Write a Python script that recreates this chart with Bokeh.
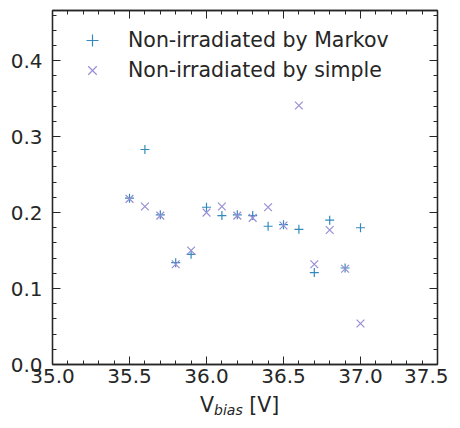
from bokeh.plotting import figure
from bokeh.models import (ColumnDataSource, LinearAxis, Range1d, Legend, LegendItem,
                          CustomJSTickFormatter, SingleIntervalTicker, NumeralTickFormatter, Div)
from bokeh.layouts import column
from bokeh.embed import file_html
from bokeh.resources import INLINE

vbias = [35.5, 35.6, 35.7, 35.8, 35.9, 36.0, 36.1, 36.2, 36.3, 36.4, 36.5, 36.6, 36.7, 36.8, 36.9, 37.0]
markov = [0.219, 0.283, 0.197, 0.134, 0.145, 0.207, 0.196, 0.197, 0.196, 0.182, 0.184, 0.178, 0.121, 0.190, 0.127, 0.180]
simple = [0.218, 0.208, 0.196, 0.132, 0.150, 0.200, 0.208, 0.196, 0.193, 0.207, 0.183, 0.341, 0.132, 0.177, 0.126, 0.054]
label_markov = "Non-irradiated by Markov"
label_simple = "Non-irradiated by simple"

FONT = "DejaVu Sans"
TXT = "#262626"
C_MARKOV = "#348ABD"
C_SIMPLE = "#988ED5"

p = figure(width=448, height=395, output_backend="svg", toolbar_location=None,
           x_range=Range1d(35.0, 37.5), y_range=Range1d(0.0, 0.466),
           min_border_left=52, min_border_right=11, min_border_top=10, min_border_bottom=31,
           background_fill_color="white", border_fill_color="white")
p.grid.visible = False
p.outline_line_color = TXT
p.outline_line_width = 1.3

src = ColumnDataSource(dict(x=vbias, m=markov, s=simple))
r1 = p.scatter("x", "m", source=src, marker="cross", size=9, line_color=C_MARKOV, line_width=1.2)
r2 = p.scatter("x", "s", source=src, marker="x", size=11, line_color=C_SIMPLE, line_width=1.2)

def style(ax, show_labels):
    ax.axis_line_color = TXT
    ax.axis_line_width = 1.3
    ax.major_tick_line_color = TXT
    ax.minor_tick_line_color = TXT
    ax.major_tick_in = 8
    ax.major_tick_out = 0
    ax.minor_tick_in = 4
    ax.minor_tick_out = 0
    ax.major_label_text_font = FONT
    ax.major_label_text_font_size = "20px"
    ax.major_label_text_color = TXT
    if show_labels:
        ax.formatter = NumeralTickFormatter(format="0.0")
    else:
        ax.formatter = CustomJSTickFormatter(code="return ''")
        ax.major_label_text_font_size = "0px"
        ax.major_label_standoff = 0

p.xaxis.ticker = SingleIntervalTicker(interval=0.5, num_minor_ticks=5)
p.yaxis.ticker = SingleIntervalTicker(interval=0.1, num_minor_ticks=5)
style(p.xaxis[0], True)
style(p.yaxis[0], True)
p.xaxis[0].major_label_standoff = 4
p.yaxis[0].major_label_standoff = 10

top = LinearAxis(ticker=SingleIntervalTicker(interval=0.5, num_minor_ticks=5))
right = LinearAxis(ticker=SingleIntervalTicker(interval=0.1, num_minor_ticks=5))
style(top, False)
style(right, False)
p.add_layout(top, "above")
p.add_layout(right, "right")

legend = Legend(items=[LegendItem(label=label_markov, renderers=[r1]),
                       LegendItem(label=label_simple, renderers=[r2])],
                location="top_left", margin=15, padding=0, spacing=0,
                glyph_width=50, glyph_height=30, label_height=30, label_standoff=11,
                label_text_font=FONT, label_text_font_size="20.5px", label_text_color=TXT,
                border_line_color=None, background_fill_alpha=0)
p.add_layout(legend)

xlabel = Div(text='V<sub style="font-style:italic;font-size:14px;vertical-align:-3px">bias</sub> [V]',
             width=448, height=30, margin=(0, 0, 0, 0),
             styles={"font-family": FONT, "font-size": "20.5px", "color": TXT,
                     "line-height": "20px", "padding-left": "200px", "padding-top": "0px"})

layout = column(p, xlabel, spacing=0)
open("out.html", "w").write(file_html(layout, INLINE))
